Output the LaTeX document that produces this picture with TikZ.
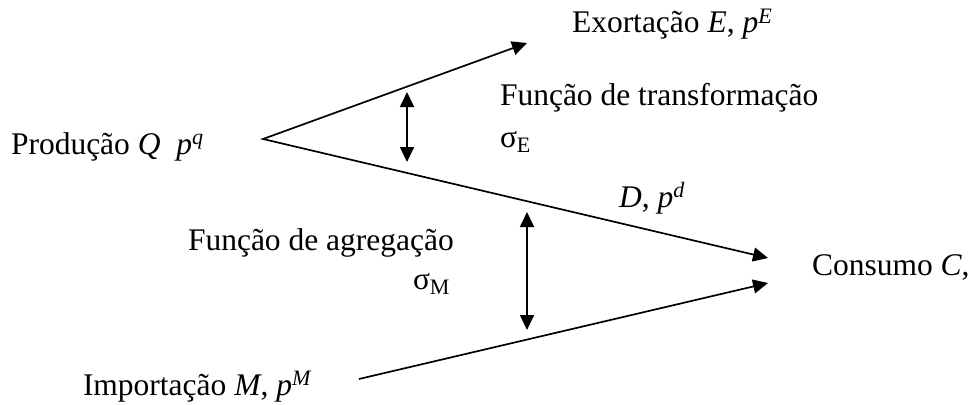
\documentclass[tikz,border=0pt]{standalone}
\usepackage{fontspec}
\setmainfont{Liberation Serif}
\usetikzlibrary{arrows.meta}
\tikzset{
  lbl/.style={anchor=base west, inner sep=0pt, outer sep=0pt, font=\fontsize{31.5}{36}\selectfont},
  conn/.style={line width=1.7pt, -{Triangle[length=15pt,width=14pt]}},
  dconn/.style={line width=1.7pt, {Triangle[length=15pt,width=14pt]}-{Triangle[length=15pt,width=14pt]}},
}
\begin{document}
\begin{tikzpicture}[x=1pt,y=-1pt]
\useasboundingbox (0,0) rectangle (971,404);
% labels
\node[lbl] (prod) at (11,154) {Produção \textit{Q}\ \ \textit{p}\textsuperscript{\textit{q}}};
\node[lbl] (exp) at (572,33) {Exortação \textit{E}, \textit{p}\textsuperscript{\textit{E}}};
\node[lbl] (ftr) at (500,105) {Função de transformação};
\node[lbl] (se) at (500,147) {σ\textsubscript{E}};
\node[lbl] (dom) at (619,207) {\textit{D}, \textit{p}\textsuperscript{\textit{d}}};
\node[lbl] (fag) at (188,250) {Função de agregação};
\node[lbl] (sm) at (413,289) {σ\textsubscript{M}};
\node[lbl] (cons) at (812,275) {Consumo \textit{C},};
\node[lbl] (imp) at (83,395) {Importação \textit{M}, \textit{p}\textsuperscript{\textit{M}}};
% connector points
\coordinate (apex) at (263,139);
\coordinate (etip) at (527,43);
\coordinate (dtip) at (768,258);
\coordinate (mstart) at (359,379);
\coordinate (mtip) at (768,283);
\coordinate (etop) at (407,92);
\coordinate (ebot) at (407,162);
\coordinate (mtop) at (527,212);
\coordinate (mbot) at (527,330);
% connectors
\draw[dconn, line join=miter] (etip) -- (apex) -- (dtip);
\draw[conn] (mstart) -- (mtip);
\draw[dconn] (etop) -- (ebot);
\draw[dconn] (mtop) -- (mbot);
\end{tikzpicture}
\end{document}
